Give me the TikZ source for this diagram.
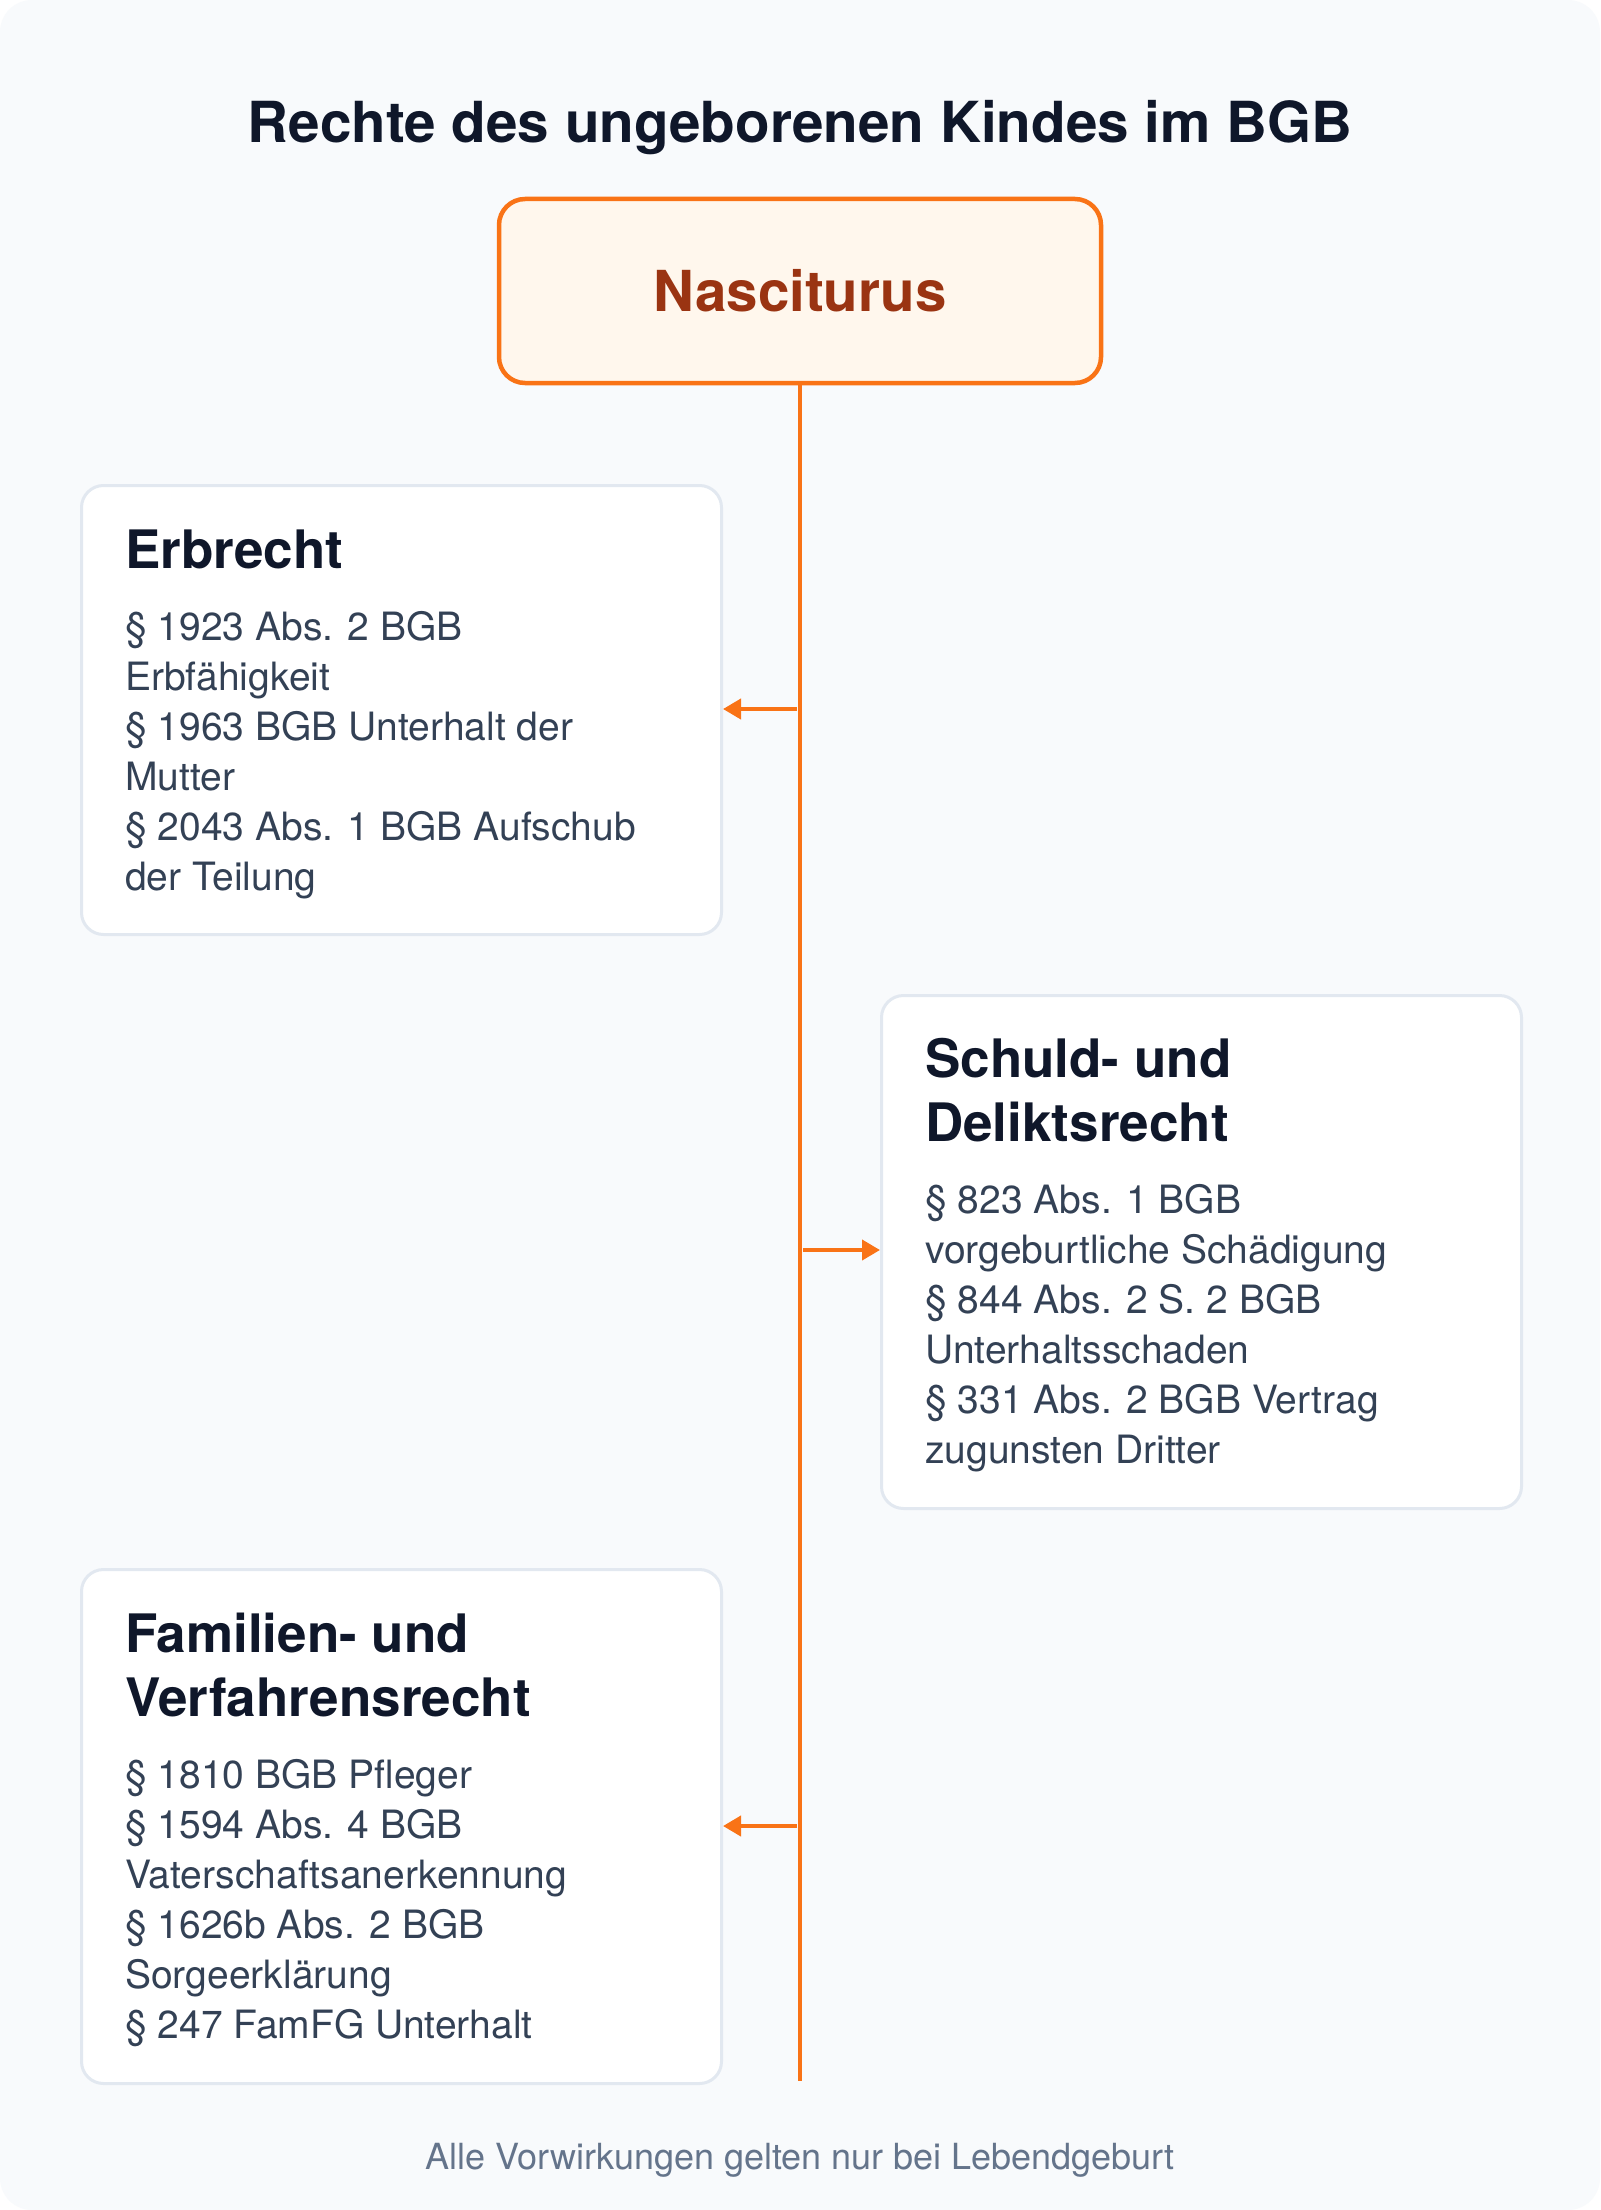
\documentclass[tikz,border=0pt]{standalone}
\usepackage{fontspec}
\setmainfont{TeX Gyre Heros}
\usetikzlibrary{arrows.meta}
\definecolor{bgpanel}{HTML}{F8FAFC}
\definecolor{ink}{HTML}{0F172A}
\definecolor{bodyink}{HTML}{334155}
\definecolor{muted}{HTML}{64748B}
\definecolor{accent}{HTML}{F97316}
\definecolor{accentfill}{HTML}{FFF7ED}
\definecolor{accentink}{HTML}{9A3412}
\definecolor{cardline}{HTML}{E2E8F0}
\tikzset{
  card/.style={draw=cardline, line width=3pt, fill=white, rounded corners=22pt},
  rootbox/.style={draw=accent, line width=4.5pt, fill=accentfill, rounded corners=26pt},
  cardtitle/.style={anchor=north west, inner sep=0pt, align=left, text=ink,
     font=\fontsize{53}{64}\selectfont\bfseries},
  cardbody/.style={anchor=north west, inner sep=0pt, align=left, text=bodyink,
     font=\fontsize{39}{50}\selectfont},
  spine/.style={draw=accent, line width=4.5pt},
  link/.style={draw=accent, line width=4pt, -{Triangle[length=18pt,width=20pt]}},
}
\begin{document}
\begin{tikzpicture}[x=1pt,y=-1pt]
\useasboundingbox (0,0) rectangle (1600,2210);
\fill[white] (0,0) rectangle (1600,2210);
\fill[bgpanel, rounded corners=32pt] (0,0) rectangle (1600,2210);

% title
\node[anchor=base, inner sep=0pt, text=ink, font=\fontsize{56.6}{60}\selectfont\bfseries] (title) at (800,143) {Rechte des ungeborenen Kindes im BGB};

% root
\path[rootbox] (499,199) rectangle (1101,383);
\node[inner sep=0pt, minimum width=602pt, minimum height=184pt] (root) at (800,291) {};
\node[anchor=base, inner sep=0pt, text=accentink, font=\fontsize{56.5}{60}\selectfont\bfseries] (rootlabel) at (800,311) {Nasciturus};

% cards
\node[card, anchor=north west, minimum width=640pt, minimum height=449pt, inner sep=0pt] (erb) at (80,484) {};
\node[card, anchor=north west, minimum width=640pt, minimum height=513pt, inner sep=0pt] (sch) at (880,994) {};
\node[card, anchor=north west, minimum width=640pt, minimum height=514pt, inner sep=0pt] (fam) at (80,1568) {};

% card texts (top = first baseline - 0.7*baselineskip)
\node[cardtitle] (erbT) at (125,523.2) {\strut Erbrecht};
\node[cardbody] (erbB) at (125,605) {\strut § 1923 Abs. 2 BGB\\Erbfähigkeit\\§ 1963 BGB Unterhalt der\\Mutter\\§ 2043 Abs. 1 BGB Aufschub\\der Teilung};

\node[cardtitle] (schT) at (925,1032.7) {\strut Schuld- und\\Deliktsrecht};
\node[cardbody] (schB) at (925,1178) {\strut § 823 Abs. 1 BGB\\vorgeburtliche Schädigung\\§ 844 Abs. 2 S. 2 BGB\\Unterhaltsschaden\\§ 331 Abs. 2 BGB Vertrag\\zugunsten Dritter};

\node[cardtitle] (famT) at (125,1607.2) {\strut Familien- und\\Verfahrensrecht};
\node[cardbody] (famB) at (125,1753) {\strut § 1810 BGB Pfleger\\§ 1594 Abs. 4 BGB\\Vaterschaftsanerkennung\\§ 1626b Abs. 2 BGB\\Sorgeerklärung\\§ 247 FamFG Unterhalt};

% spine
\coordinate (spineEnd) at (800,2081);
\draw[spine] (root.south) -- (spineEnd);
\coordinate (j1) at (797,709);
\coordinate (j2) at (803,1250);
\coordinate (j3) at (797,1826);
\draw[link] (j1) -- (erb.east |- j1);
\draw[link] (j2) -- (sch.west |- j2);
\draw[link] (j3) -- (fam.east |- j3);

% footer
\node[anchor=base, inner sep=0pt, text=muted, font=\fontsize{36}{40}\selectfont] (foot) at (800,2169) {Alle Vorwirkungen gelten nur bei Lebendgeburt};
\end{tikzpicture}
\end{document}
